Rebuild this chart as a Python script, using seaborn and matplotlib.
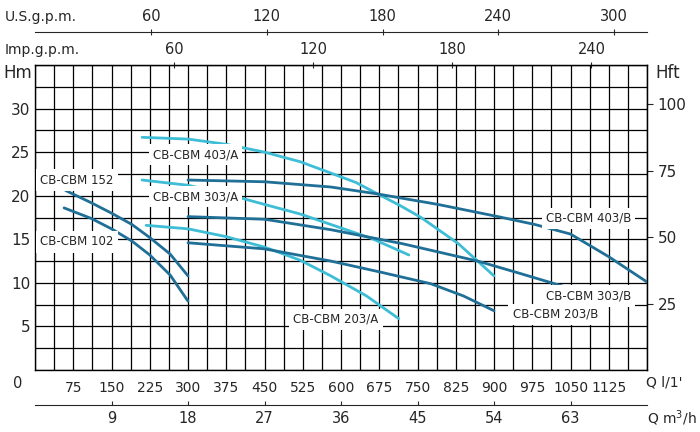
import numpy as np
import pandas as pd
import matplotlib
matplotlib.use("Agg")
import matplotlib.pyplot as plt
import seaborn as sns

# Pump curves: flow Q (l/min) vs head H (m)
q_152 = [60, 110, 150, 190, 225, 265, 300]
h_152 = [20.6, 19.2, 18.0, 16.7, 15.2, 13.3, 10.8]
q_102 = [57, 110, 150, 190, 225, 265, 300]
h_102 = [18.6, 17.4, 16.2, 14.8, 13.2, 10.9, 7.9]
q_403a = [210, 300, 375, 450, 520, 580, 630, 672, 715, 757, 830, 900]
h_403a = [26.7, 26.5, 25.9, 25.0, 23.9, 22.6, 21.5, 20.2, 18.9, 17.5, 14.5, 10.8]
q_303a = [210, 300, 375, 450, 520, 580, 660, 733]
h_303a = [21.8, 21.2, 20.2, 19.0, 17.9, 16.7, 15.1, 13.2]
q_203a = [218, 300, 375, 450, 520, 580, 650, 713]
h_203a = [16.6, 16.2, 15.3, 14.1, 12.6, 10.8, 8.5, 5.9]
q_403b = [300, 450, 580, 672, 790, 908, 980, 1050, 1125, 1200]
h_403b = [21.8, 21.6, 21.0, 20.2, 19.0, 17.6, 16.7, 15.6, 13.0, 10.1]
q_303b = [300, 450, 580, 720, 868, 950, 1036]
h_303b = [17.6, 17.3, 16.1, 14.5, 12.5, 11.1, 9.6]
q_203b = [300, 450, 580, 680, 776, 840, 900]
h_203b = [14.6, 13.9, 12.5, 11.2, 9.9, 8.5, 6.8]

curves = {
    "CB-CBM 152": (q_152, h_152, "dark"),
    "CB-CBM 102": (q_102, h_102, "dark"),
    "CB-CBM 403/A": (q_403a, h_403a, "light"),
    "CB-CBM 303/A": (q_303a, h_303a, "light"),
    "CB-CBM 203/A": (q_203a, h_203a, "light"),
    "CB-CBM 403/B": (q_403b, h_403b, "dark"),
    "CB-CBM 303/B": (q_303b, h_303b, "dark"),
    "CB-CBM 203/B": (q_203b, h_203b, "dark"),
}
colors = {"dark": "#1f6f96", "light": "#3dbdd6"}

# label anchor points (Q, H)
labels = {
    "CB-CBM 403/A": (315, 24.7),
    "CB-CBM 303/A": (315, 19.9),
    "CB-CBM 152": (82, 21.8),
    "CB-CBM 102": (82, 14.7),
    "CB-CBM 203/A": (590, 5.8),
    "CB-CBM 203/B": (1020, 6.4),
    "CB-CBM 303/B": (1085, 8.5),
    "CB-CBM 403/B": (1085, 17.4),
}

sns.set_style("white")
plt.rcParams["font.family"] = ["DejaVu Sans"]

fig = plt.figure(figsize=(7, 4.32), dpi=100)
ax = fig.add_axes([35 / 700, 62 / 432, 612 / 700, 305 / 432])

for name, (q, h, tone) in curves.items():
    df = pd.DataFrame({"Q": q, "H": h})
    sns.lineplot(data=df, x="Q", y="H", ax=ax, color=colors[tone], lw=2, zorder=3)

for name, (x, y) in labels.items():
    ax.text(x, y, name, fontsize=8.5, ha="center", va="center", zorder=4,
            bbox=dict(facecolor="white", edgecolor="none", pad=3))

ax.set_xlim(0, 1200)
ax.set_ylim(0, 35)
ax.set_xticks(np.arange(75, 1200, 75))
ax.set_xticks(np.arange(0, 1201, 37.5), minor=True)
ax.set_yticks(np.arange(5, 31, 5))
ax.set_yticks(np.arange(0, 35.1, 2.5), minor=True)
ax.grid(which="both", color="black", lw=0.9)
ax.tick_params(which="both", length=0, labelsize=10)
ax.tick_params(axis="x", pad=8)
ax.tick_params(axis="y", labelsize=11)
ax.set_xlabel("")
ax.set_ylabel("")
for s in ax.spines.values():
    s.set_color("black")
    s.set_linewidth(1)

# right: head in feet
ay = ax.secondary_yaxis("right", functions=(lambda m: m / 0.3048, lambda f: f * 0.3048))
ay.set_yticks([25, 50, 75, 100])
ay.tick_params(length=4, labelsize=11)

# top: imperial gpm on frame, US gpm above
imp = ax.secondary_xaxis("top", functions=(lambda l: l / 4.54609, lambda g: g * 4.54609))
imp.set_xticks([60, 120, 180, 240])
imp.tick_params(length=4, direction="inout", labelsize=10.5)

us = ax.secondary_xaxis(1.108, functions=(lambda l: l / 3.78541, lambda g: g * 3.78541))
us.set_xticks([60, 120, 180, 240, 300])
us.tick_params(length=4, direction="inout", labelsize=10.5)

# bottom: m3/h
m3 = ax.secondary_xaxis(-0.115, functions=(lambda l: l * 0.06, lambda m: m / 0.06))
m3.set_xticks([9, 18, 27, 36, 45, 54, 63])
m3.tick_params(length=3, direction="in", labelsize=10.5, pad=4)

fig.text(18 / 700, 1 - 73 / 432, "Hm", fontsize=12, ha="center", va="center")
fig.text(668 / 700, 1 - 73 / 432, "Hft", fontsize=12, ha="center", va="center")
fig.text(18 / 700, 1 - 383 / 432, "0", fontsize=10.5, ha="center", va="center")
fig.text(664 / 700, 1 - 383 / 432, "Q l/1'", fontsize=10, ha="center", va="center")
fig.text(672 / 700, 1 - 418 / 432, "Q m$^3$/h", fontsize=10, ha="center", va="center")
fig.text(5 / 700, 1 - 50 / 432, "Imp.g.p.m.", fontsize=10, ha="left", va="center")
fig.text(5 / 700, 1 - 17 / 432, "U.S.g.p.m.", fontsize=10, ha="left", va="center")

fig.savefig("out.png", dpi=100)
